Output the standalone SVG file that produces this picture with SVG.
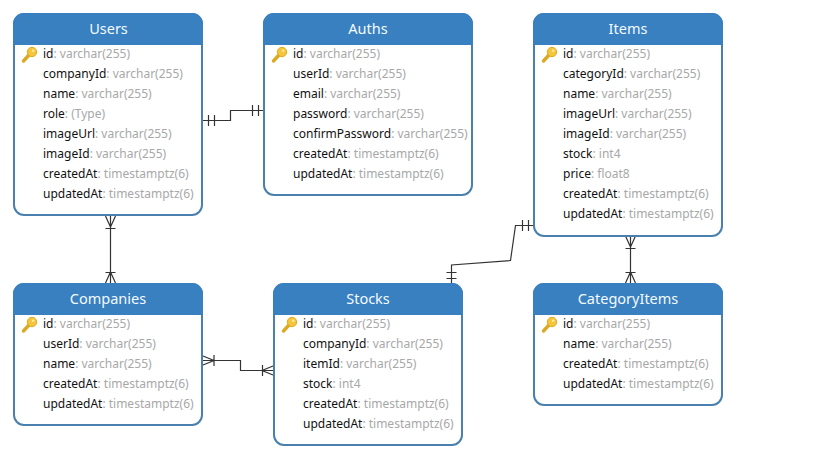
<svg xmlns="http://www.w3.org/2000/svg" xmlns:xlink="http://www.w3.org/1999/xlink" width="826" height="460" viewBox="0 0 826 460">
<style>
text{font-family:"Noto Sans","Open Sans","Liberation Sans",sans-serif;font-size:12px}
.box{fill:#fff;stroke:#4a80ad;stroke-width:2}
.head{fill:#3880bf}
.title{font-size:14.500px;fill:#f4faff;text-anchor:middle}
.n{fill:#111}
.t{fill:#a8a8a8}
.c{fill:none;stroke:#333;stroke-width:1.200}
</style>
<defs>
<g id="key">
<path d="M-4.500 7L1 1" fill="none" stroke="#dba923" stroke-width="3.400" stroke-linecap="round"/>
<circle cx="4" cy="-2" r="4.700" fill="#f5c63c" stroke="#dba923" stroke-width="1"/>
<circle cx="5.200" cy="-3.200" r="1.200" fill="#fdeea8"/>
</g>
</defs>
<g id="connectors">
<path class="c" d="M203 120.500H230.500V110.500H263M208.500 115V126M214.500 115V126M252.500 105V116M258.500 105V116"/>
<path class="c" d="M110.500 216V283M105.500 228.500H115.500M105.500 272.500H115.500M105.500 216L110.500 227L115.500 216M105.500 283L110.500 272L115.500 283"/>
<path class="c" d="M203 360.500H240.500V370.500H273M214 355V366M262.500 365V376M203 356L214 360.500L203 365M273 366L262 370.500L273 375"/>
<path class="c" d="M451.500 283V265L510.500 260.500L515.500 225.500H534M446.500 272.500H456.500M446.500 278.500H456.500M522.500 220V231M528.500 220V231"/>
<path class="c" d="M630.500 236V283M625.500 248.500H635.500M625.500 272.500H635.500M625.500 236L630.500 247L635.500 236M625.500 283L630.500 272L635.500 283"/>
</g>
<g id="Users">
<rect class="box" x="14" y="14" width="188" height="201" rx="10"/>
<path class="head" d="M13 45V24A11 11 0 0 1 24 13H192A11 11 0 0 1 203 24V45Z"/>
<text class="title" x="108.500" y="34">Users</text>
<use xlink:href="#key" href="#key" x="28" y="54"/>
<text x="43" y="58"><tspan class="n">id</tspan><tspan class="t">: varchar(255)</tspan></text>
<text x="43" y="78"><tspan class="n">companyId</tspan><tspan class="t">: varchar(255)</tspan></text>
<text x="43" y="98"><tspan class="n">name</tspan><tspan class="t">: varchar(255)</tspan></text>
<text x="43" y="118"><tspan class="n">role</tspan><tspan class="t">: (Type)</tspan></text>
<text x="43" y="138"><tspan class="n">imageUrl</tspan><tspan class="t">: varchar(255)</tspan></text>
<text x="43" y="158"><tspan class="n">imageId</tspan><tspan class="t">: varchar(255)</tspan></text>
<text x="43" y="178"><tspan class="n">createdAt</tspan><tspan class="t">: timestamptz(6)</tspan></text>
<text x="43" y="198"><tspan class="n">updatedAt</tspan><tspan class="t">: timestamptz(6)</tspan></text>
</g>
<g id="Auths">
<rect class="box" x="264" y="14" width="208" height="181" rx="10"/>
<path class="head" d="M263 45V24A11 11 0 0 1 274 13H462A11 11 0 0 1 473 24V45Z"/>
<text class="title" x="368" y="34">Auths</text>
<use xlink:href="#key" href="#key" x="278" y="54"/>
<text x="293" y="58"><tspan class="n">id</tspan><tspan class="t">: varchar(255)</tspan></text>
<text x="293" y="78"><tspan class="n">userId</tspan><tspan class="t">: varchar(255)</tspan></text>
<text x="293" y="98"><tspan class="n">email</tspan><tspan class="t">: varchar(255)</tspan></text>
<text x="293" y="118"><tspan class="n">password</tspan><tspan class="t">: varchar(255)</tspan></text>
<text x="293" y="138"><tspan class="n">confirmPassword</tspan><tspan class="t">: varchar(255)</tspan></text>
<text x="293" y="158"><tspan class="n">createdAt</tspan><tspan class="t">: timestamptz(6)</tspan></text>
<text x="293" y="178"><tspan class="n">updatedAt</tspan><tspan class="t">: timestamptz(6)</tspan></text>
</g>
<g id="Items">
<rect class="box" x="534" y="14" width="188" height="222" rx="10"/>
<path class="head" d="M533 45V24A11 11 0 0 1 544 13H712A11 11 0 0 1 723 24V45Z"/>
<text class="title" x="628" y="34">Items</text>
<use xlink:href="#key" href="#key" x="548" y="54"/>
<text x="563" y="58"><tspan class="n">id</tspan><tspan class="t">: varchar(255)</tspan></text>
<text x="563" y="78"><tspan class="n">categoryId</tspan><tspan class="t">: varchar(255)</tspan></text>
<text x="563" y="98"><tspan class="n">name</tspan><tspan class="t">: varchar(255)</tspan></text>
<text x="563" y="118"><tspan class="n">imageUrl</tspan><tspan class="t">: varchar(255)</tspan></text>
<text x="563" y="138"><tspan class="n">imageId</tspan><tspan class="t">: varchar(255)</tspan></text>
<text x="563" y="158"><tspan class="n">stock</tspan><tspan class="t">: int4</tspan></text>
<text x="563" y="178"><tspan class="n">price</tspan><tspan class="t">: float8</tspan></text>
<text x="563" y="198"><tspan class="n">createdAt</tspan><tspan class="t">: timestamptz(6)</tspan></text>
<text x="563" y="218"><tspan class="n">updatedAt</tspan><tspan class="t">: timestamptz(6)</tspan></text>
</g>
<g id="Companies">
<rect class="box" x="14" y="284" width="188" height="141" rx="10"/>
<path class="head" d="M13 315V294A11 11 0 0 1 24 283H192A11 11 0 0 1 203 294V315Z"/>
<text class="title" x="108" y="304">Companies</text>
<use xlink:href="#key" href="#key" x="28" y="324"/>
<text x="43" y="328"><tspan class="n">id</tspan><tspan class="t">: varchar(255)</tspan></text>
<text x="43" y="348"><tspan class="n">userId</tspan><tspan class="t">: varchar(255)</tspan></text>
<text x="43" y="368"><tspan class="n">name</tspan><tspan class="t">: varchar(255)</tspan></text>
<text x="43" y="388"><tspan class="n">createdAt</tspan><tspan class="t">: timestamptz(6)</tspan></text>
<text x="43" y="408"><tspan class="n">updatedAt</tspan><tspan class="t">: timestamptz(6)</tspan></text>
</g>
<g id="Stocks">
<rect class="box" x="274" y="284" width="188" height="161" rx="10"/>
<path class="head" d="M273 315V294A11 11 0 0 1 284 283H452A11 11 0 0 1 463 294V315Z"/>
<text class="title" x="368" y="304">Stocks</text>
<use xlink:href="#key" href="#key" x="288" y="324"/>
<text x="303" y="328"><tspan class="n">id</tspan><tspan class="t">: varchar(255)</tspan></text>
<text x="303" y="348"><tspan class="n">companyId</tspan><tspan class="t">: varchar(255)</tspan></text>
<text x="303" y="368"><tspan class="n">itemId</tspan><tspan class="t">: varchar(255)</tspan></text>
<text x="303" y="388"><tspan class="n">stock</tspan><tspan class="t">: int4</tspan></text>
<text x="303" y="408"><tspan class="n">createdAt</tspan><tspan class="t">: timestamptz(6)</tspan></text>
<text x="303" y="428"><tspan class="n">updatedAt</tspan><tspan class="t">: timestamptz(6)</tspan></text>
</g>
<g id="CategoryItems">
<rect class="box" x="534" y="284" width="188" height="121" rx="10"/>
<path class="head" d="M533 315V294A11 11 0 0 1 544 283H712A11 11 0 0 1 723 294V315Z"/>
<text class="title" x="628" y="304">CategoryItems</text>
<use xlink:href="#key" href="#key" x="548" y="324"/>
<text x="563" y="328"><tspan class="n">id</tspan><tspan class="t">: varchar(255)</tspan></text>
<text x="563" y="348"><tspan class="n">name</tspan><tspan class="t">: varchar(255)</tspan></text>
<text x="563" y="368"><tspan class="n">createdAt</tspan><tspan class="t">: timestamptz(6)</tspan></text>
<text x="563" y="388"><tspan class="n">updatedAt</tspan><tspan class="t">: timestamptz(6)</tspan></text>
</g>
</svg>
